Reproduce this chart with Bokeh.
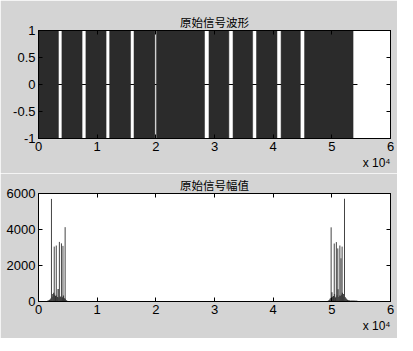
from bokeh.plotting import figure
from bokeh.layouts import column
from bokeh.models import Range1d, FixedTicker, LinearAxis, Title, CustomJSTickFormatter
from bokeh.embed import file_html
from bokeh.resources import INLINE

# ---------------- data ----------------
# top: tone segments of the original signal (sample index), amplitude +-1
tone_start = [0, 3990, 8080, 12130, 16280, 20110, 29060, 33160, 37160, 41350, 45350]
tone_end = [3400, 7430, 11520, 15690, 19840, 28300, 32450, 36500, 40650, 44630, 53620]
tone_low = [-1, -1, -1, -1, -1, -1, -1, -1, -1, -1, -1]
tone_high = [1, 1, 1, 1, 1, 1, 1, 1, 1, 1, 1]
signal_x = [0, 54370]
signal_zero = [0, 0]

# bottom: FFT magnitude, main peaks
left_peak_bin = [2210, 2680, 3030, 3560, 3910, 4170, 4540]
left_peak_amp = [5700, 3050, 3110, 3310, 3230, 3090, 4130]
right_peak_bin = [49880, 50410, 50770, 51015, 51370, 51560, 51750, 52160]
right_peak_amp = [4120, 3220, 3300, 2950, 3110, 2400, 3050, 5710]

# bottom: low-level spectral content near the clusters
left_noise_bin = [1400, 1550, 1700, 1850, 2000, 2150, 2300, 2450, 2600, 2750, 2900, 3050,
                  3200, 3350, 3500, 3650, 3800, 3950, 4100, 4250, 4400, 4550, 4700, 4850]
left_noise_amp = [30, 45, 60, 90, 130, 180, 260, 420, 480, 380, 300, 330,
                  250, 700, 220, 280, 260, 200, 240, 330, 180, 150, 90, 40]
right_noise_bin = [49400, 49550, 49700, 49850, 50000, 50150, 50300, 50450, 50600, 50750, 50900, 51050,
                   51200, 51350, 51500, 51650, 51800, 51950, 52100, 52250, 52400, 52550, 52700, 52850]
right_noise_amp = [40, 80, 150, 200, 520, 260, 300, 420, 220, 260, 350, 680,
                   250, 330, 300, 380, 480, 420, 260, 250, 180, 120, 80, 50]
tail_bin = [52850, 53200, 53600, 54000, 54370]
tail_amp = [40, 25, 25, 20, 15]

x_ticks = [0, 10000, 20000, 30000, 40000, 50000, 60000]
y1_ticks = [-1, -0.5, 0, 0.5, 1]
y2_ticks = [0, 2000, 4000, 6000]

BG = "#d4d4d4"
TICK_FONT = "Liberation Sans"


def mirror_axis(ticks):
    return LinearAxis(ticker=FixedTicker(ticks=ticks),
                      formatter=CustomJSTickFormatter(code="return '';"),
                      major_tick_in=4, major_tick_out=0, minor_tick_line_color=None,
                      major_label_standoff=0, axis_line_color="black")


def make_fig(title, y_start, y_end, y_ticks, b_top, b_bottom):
    p = figure(frame_width=352, frame_height=108, output_backend="svg", toolbar_location=None,
               x_range=Range1d(0, 60000), y_range=Range1d(y_start, y_end),
               min_border_left=38, min_border_right=7, min_border_top=b_top, min_border_bottom=b_bottom)
    p.background_fill_color = "white"
    p.border_fill_color = BG
    p.outline_line_color = "black"
    p.grid.visible = False
    p.title.text = title
    p.title.align = "center"
    p.title.text_font = "Noto Sans CJK SC"
    p.title.text_font_size = "11.5px"
    p.title.text_font_style = "normal"
    p.title.text_color = "black"
    p.title.standoff = 2
    p.title.offset = 0

    p.xaxis.ticker = FixedTicker(ticks=x_ticks)
    p.xaxis.formatter = CustomJSTickFormatter(code="return (tick/10000).toString();")
    p.yaxis.ticker = FixedTicker(ticks=y_ticks)
    p.yaxis.formatter = CustomJSTickFormatter(code="return tick.toString();")
    for ax in (p.xaxis[0], p.yaxis[0]):
        ax.major_tick_in = 4
        ax.major_tick_out = 0
        ax.minor_tick_line_color = None
        ax.axis_line_color = "black"
        ax.major_tick_line_color = "black"
        ax.major_label_text_font = TICK_FONT
        ax.major_label_text_font_size = "13px"
        ax.major_label_text_color = "black"
        ax.major_label_standoff = 3

    p.add_layout(mirror_axis(x_ticks), "above")
    p.add_layout(mirror_axis(y_ticks), "right")

    p.add_layout(Title(text="x 10\u2074", align="right", text_font=TICK_FONT,
                       text_font_size="12px", text_font_style="normal", text_color="black",
                       standoff=0, offset=0), "below")
    return p


p1 = make_fig("原始信号波形", -1, 1, y1_ticks, 30, 35)
p1.line(signal_x, signal_zero, line_color="black", line_width=1)
p1.quad(left=tone_start, right=tone_end, bottom=tone_low, top=tone_high,
        fill_color="#2b2b2b", line_color="#2b2b2b", line_width=0.5)

p2 = make_fig("原始信号幅值", 0, 6000, y2_ticks, 17, 37)
zl = [0] * len(left_noise_bin)
zr = [0] * len(right_noise_bin)
p2.segment(x0=left_noise_bin, y0=zl, x1=left_noise_bin, y1=left_noise_amp, line_color="#303030", line_width=1.2)
p2.segment(x0=right_noise_bin, y0=zr, x1=right_noise_bin, y1=right_noise_amp, line_color="#303030", line_width=1.2)
p2.line(tail_bin, tail_amp, line_color="#303030", line_width=1)
p2.segment(x0=left_peak_bin, y0=[0] * len(left_peak_bin), x1=left_peak_bin, y1=left_peak_amp,
           line_color="#444444", line_width=1)
p2.segment(x0=right_peak_bin, y0=[0] * len(right_peak_bin), x1=right_peak_bin, y1=right_peak_amp,
           line_color="#444444", line_width=1)

layout = column(p1, p2, spacing=0)
open("out.html", "w").write(file_html(layout, INLINE))
